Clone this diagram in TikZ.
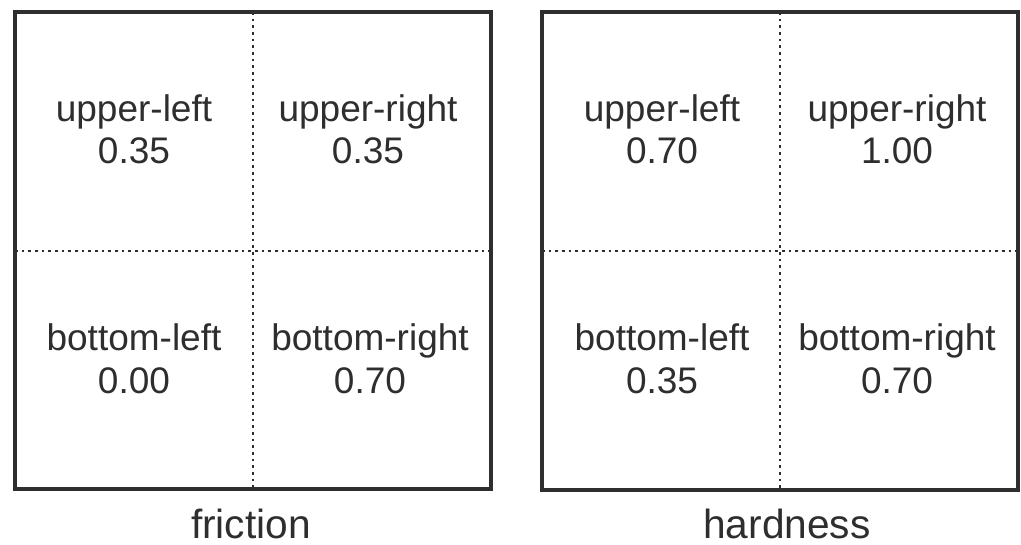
\documentclass[tikz,border=0pt]{standalone}
\usepackage{fontspec}
\setmainfont{Liberation Sans}
\begin{document}
\begin{tikzpicture}[x=0.75pt,y=-0.75pt,
  frame/.style={draw=black!82,line width=3pt},
  divider/.style={draw=black!82,line width=1.8pt,dash pattern=on 2pt off 3pt},
  cell/.style={anchor=base,inner sep=0pt,text=black!82,font=\fontsize{27.75pt}{32pt}\selectfont},
  caption/.style={anchor=base,inner sep=0pt,text=black!82,font=\fontsize{30.5pt}{34pt}\selectfont}]
\useasboundingbox[fill=white] (0,0) rectangle (1021,545);

% friction panel
\coordinate (fTL) at (15,12);
\coordinate (fBR) at (491,489);
\coordinate (fT) at (253,12);
\coordinate (fB) at (253,489);
\coordinate (fL) at (15,251);
\coordinate (fR) at (491,251);
\draw[divider] (fT) -- (fB);
\draw[divider] (fL) -- (fR);
\draw[frame] (fTL) rectangle (fBR);
\node[cell] (ful) at (134,122) {upper-left};
\node[cell] (fulv) at (134,164) {0.35};
\node[cell] (fur) at (368,122) {upper-right};
\node[cell] (furv) at (368,164) {0.35};
\node[cell] (fbl) at (134,350) {bottom-left};
\node[cell] (fblv) at (134,393) {0.00};
\node[cell] (fbr) at (370,350) {bottom-right};
\node[cell] (fbrv) at (370,393) {0.70};
\node[caption] (fcap) at (251,538) {friction};

% hardness panel
\coordinate (hTL) at (542,12);
\coordinate (hBR) at (1018,490);
\coordinate (hT) at (780,12);
\coordinate (hB) at (780,490);
\coordinate (hL) at (542,251);
\coordinate (hR) at (1018,251);
\draw[divider] (hT) -- (hB);
\draw[divider] (hL) -- (hR);
\draw[frame] (hTL) rectangle (hBR);
\node[cell] (hul) at (662,122) {upper-left};
\node[cell] (hulv) at (662,164) {0.70};
\node[cell] (hur) at (897,122) {upper-right};
\node[cell] (hurv) at (897,164) {1.00};
\node[cell] (hbl) at (662,350) {bottom-left};
\node[cell] (hblv) at (662,393) {0.35};
\node[cell] (hbr) at (897,350) {bottom-right};
\node[cell] (hbrv) at (897,393) {0.70};
\node[caption] (hcap) at (787,538) {hardness};
\end{tikzpicture}
\end{document}
